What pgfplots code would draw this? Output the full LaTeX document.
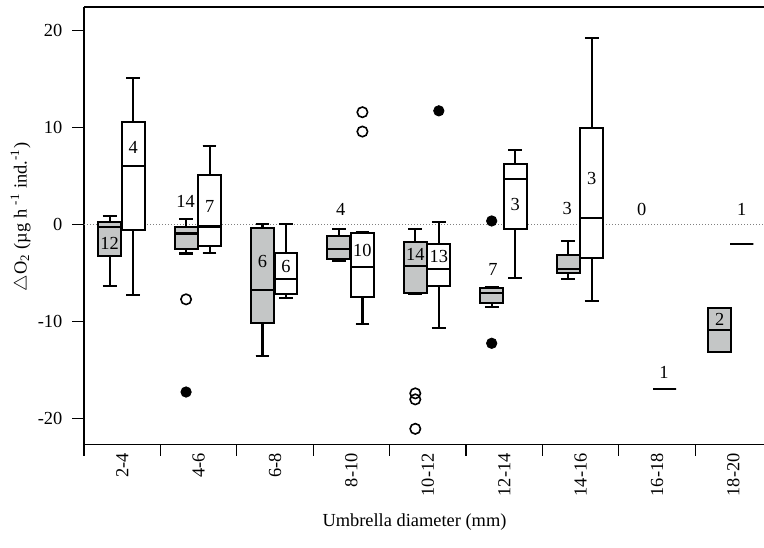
\documentclass[border=0pt]{standalone}
\usepackage{fontspec}
\setmainfont{Liberation Serif}
\usepackage{pgfplots}
\pgfplotsset{compat=1.18}
\usepgfplotslibrary{statistics}
\definecolor{boxgray}{RGB}{196,198,198}

% position, lower whisker, lower quartile, median, upper quartile, upper whisker, fill
\newcommand{\bx}[7]{%
  \addplot[draw=black, fill=#7, line width=1pt,
    boxplot/draw direction=y,
    boxplot/every whisker/.style={line width=1.1pt, black},
    boxplot/every median/.style={line width=1.1pt, black},
    boxplot prepared={draw position=#1, lower whisker=#2, lower quartile=#3,
      median=#4, upper quartile=#5, upper whisker=#6,
      box extend=0.3, whisker extend=0.18}] coordinates {};}

\begin{document}
\begin{tikzpicture}[font=\fontsize{9.2}{11}\selectfont]
\begin{axis}[
  scale only axis, width=340pt, height=218.65pt,
  xmin=-0.5, xmax=8.4, ymin=-22.7, ymax=22.45,
  axis x line*=box, axis y line*=left, axis line style={-, line width=0.6pt},
  tick align=outside, major tick length=5.8pt,
  tick style={line width=0.6pt, black},
  ytick={-20,-10,0,10,20}, yticklabels={-20,-10,0,10,20},
  ytick pos=left,
  yticklabel style={xshift=-1.5pt},
  xtick={-0.5,0.5,...,7.5}, xticklabels={}, xtick pos=bottom,
  extra x ticks={0,...,8},
  extra x tick labels={2-4,4-6,6-8,8-10,10-12,12-14,14-16,16-18,18-20},
  extra x tick style={major tick length=0pt,
    xticklabel style={rotate=90, anchor=east, xshift=-1pt}},
  xlabel={Umbrella diameter (mm)},
  xlabel style={at={(axis description cs:0.486,-0.1784)}, anchor=center},
  ylabel={$\triangle$O\textsubscript{2} (µg h \textsuperscript{-1} ind.\textsuperscript{-1})},
  ylabel style={at={(axis description cs:-0.0932,0.52)}, anchor=center},
  clip=false,
]
\addplot[gray, densely dotted, line width=0.5pt] coordinates {(-0.5,0) (8.4,0)};

% 2-4
\bx{-0.164}{-6.32}{-3.29}{-0.23}{0.26}{0.88}{boxgray}
\bx{0.144}{-7.25}{-0.57}{6.07}{10.56}{15.13}{white}
% 4-6
\bx{0.836}{-3.0}{-2.55}{-0.93}{-0.27}{0.57}{boxgray}
\bx{1.144}{-2.98}{-2.22}{-0.22}{5.11}{8.1}{white}
% 6-8
\bx{1.836}{-13.55}{-10.14}{-6.77}{-0.4}{0.05}{boxgray}
\bx{2.144}{-7.63}{-7.21}{-5.63}{-2.9}{0.05}{white}
% 8-10
\bx{2.836}{-3.74}{-3.56}{-2.53}{-1.15}{-0.46}{boxgray}
\bx{3.144}{-10.28}{-7.45}{-4.39}{-0.91}{-0.8}{white}
% 10-12
\bx{3.836}{-7.2}{-7.11}{-4.25}{-1.84}{-0.46}{boxgray}
\bx{4.144}{-10.66}{-6.35}{-4.6}{-2.05}{0.22}{white}
% 12-14
\bx{4.836}{-8.55}{-8.07}{-7.11}{-6.59}{-6.45}{boxgray}
\bx{5.144}{-5.5}{-0.43}{4.7}{6.22}{7.7}{white}
% 14-16
\bx{5.836}{-5.6}{-5.04}{-4.56}{-3.15}{-1.67}{boxgray}
\bx{6.144}{-7.87}{-3.49}{0.67}{9.97}{19.24}{white}
% 16-18
\bx{7.1}{-17.03}{-17.03}{-17.03}{-17.03}{-17.03}{white}
% 18-20
\bx{7.816}{-13.17}{-13.17}{-10.9}{-8.6}{-8.6}{boxgray}
\bx{8.11}{-2.01}{-2.01}{-2.01}{-2.01}{-2.01}{white}

% outliers
\addplot[only marks, mark=o, mark size=2.6pt, mark options={line width=0.8pt, black}]
  coordinates {(0.836,-7.73) (3.144,11.59) (3.144,9.59) (3.836,-17.44) (3.836,-18.06) (3.836,-21.1)};
\addplot[only marks, mark=*, mark size=2.6pt, mark options={fill=black, draw=black}]
  coordinates {(0.836,-17.3) (4.144,11.73) (4.836,0.36) (4.836,-12.27)};

% sample sizes
\node at (axis cs:-0.164,-2.0) {12};
\node at (axis cs:0.144,8.0) {4};
\node at (axis cs:0.83,2.4) {14};
\node at (axis cs:1.144,1.9) {7};
\node at (axis cs:1.836,-3.8) {6};
\node at (axis cs:2.144,-4.36) {6};
\node at (axis cs:2.86,1.57) {4};
\node at (axis cs:3.144,-2.7) {10};
\node at (axis cs:3.836,-3.08) {14};
\node at (axis cs:4.144,-3.3) {13};
\node at (axis cs:4.853,-4.7) {7};
\node at (axis cs:5.144,2.1) {3};
\node at (axis cs:5.826,1.67) {3};
\node at (axis cs:6.144,4.7) {3};
\node at (axis cs:6.80,1.57) {0};
\node at (axis cs:7.09,-15.27) {1};
\node at (axis cs:7.82,-9.8) {2};
\node at (axis cs:8.108,1.57) {1};
\end{axis}
\pgfresetboundingbox
\path (-42pt,-51.35pt) rectangle (340pt,222.15pt);
\end{tikzpicture}
\end{document}
